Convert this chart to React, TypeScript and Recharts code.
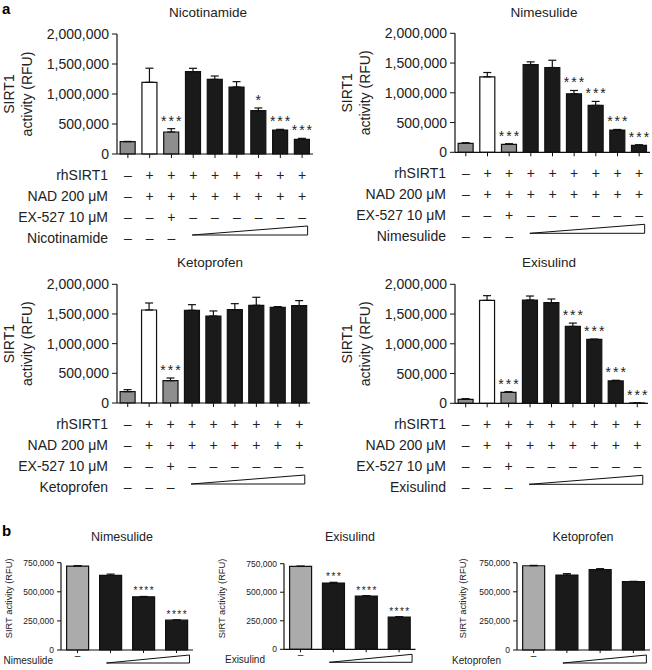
import { Bar, BarChart, Cell, ErrorBar, Label, LabelList, XAxis, YAxis } from "recharts"

const FONT = '"Liberation Sans", Arial, Helvetica, sans-serif'
const INK = "#1a1a1a"

// ---- panel a: conditions under each bar ----
const rhSIRT1Row = ["–", "+", "+", "+", "+", "+", "+", "+", "+"]
const nadRow = ["–", "+", "+", "+", "+", "+", "+", "+", "+"]
const ex527Row = ["–", "–", "+", "–", "–", "–", "–", "–", "–"]
const drugRowA = ["–", "–", "–", "", "", "", "", "", ""]
const conditionLabels = ["rhSIRT1", "NAD 200 μM", "EX-527 10 μM"]
const panelAFills = ["#8e8e8e", "#ffffff", "#8e8e8e", INK, INK, INK, INK, INK, INK]
const panelATicks = [0, 500000, 1000000, 1500000, 2000000]

const nicotinamideValues = [205000, 1195000, 367000, 1372000, 1244000, 1117000, 722000, 400000, 244000]
const nicotinamideErrors = [5000, 235000, 55000, 56000, 56000, 89000, 45000, 11000, 17000]
const nicotinamideStars = ["", "", "***", "", "", "", "*", "***", "***"]

const nimesulideValues = [151000, 1268000, 134000, 1475000, 1425000, 983000, 788000, 374000, 117000]
const nimesulideErrors = [10000, 73000, 10000, 45000, 122000, 56000, 67000, 10000, 10000]
const nimesulideStars = ["", "", "***", "", "", "***", "***", "***", "***"]

const ketoprofenValues = [191000, 1567000, 376000, 1562000, 1466000, 1573000, 1646000, 1612000, 1640000]
const ketoprofenErrors = [34000, 118000, 45000, 95000, 85000, 101000, 135000, 12000, 85000]
const ketoprofenStars = ["", "", "***", "", "", "", "", "", ""]

const exisulindValues = [67000, 1730000, 185000, 1736000, 1691000, 1292000, 1073000, 376000, 6000]
const exisulindErrors = [11000, 79000, 11000, 67000, 62000, 56000, 6000, 11000, 0]
const exisulindStars = ["", "", "***", "", "", "***", "***", "***", "***"]

// ---- panel b ----
const drugRowB = ["–", "", "", ""]
const panelBFills = ["#ababab", INK, INK, INK]
const panelBTicks = [0, 250000, 500000, 750000]

const bNimesulideValues = [721000, 641000, 457000, 256000]
const bNimesulideErrors = [3000, 11000, 3000, 3000]
const bNimesulideStars = ["", "", "****", "****"]

const bExisulindValues = [726000, 580000, 467000, 283000]
const bExisulindErrors = [3000, 7000, 3000, 3000]
const bExisulindStars = ["", "***", "****", "****"]

const bKetoprofenValues = [724000, 644000, 690000, 587000]
const bKetoprofenErrors = [3000, 12000, 9000, 3000]
const bKetoprofenStars = ["", "", "", ""]

type Box = { x: number; y: number; w: number; h: number }
type Plot = { left: number; top: number; right: number; bottom: number }

interface PanelProps {
  box: Box
  plot: Plot
  values: number[]
  errors: number[]
  stars: string[]
  fills: string[]
  yMax: number
  yTicks: number[]
  tickFont: number
  tickSize: number
  yLabel: string[]
  yLabelX: number[]
  yLabelShift: number
  yLabelFont: number
  rows: string[][]
  rowOffsets: number[]
  rowLabels: string[]
  rowLabelOffsets: number[]
  rowLabelX: number
  rowFont: number
  tri: { from: number; left: number; right: number; top: number; bottom: number }
  gap: string
  starFont: number
  starLift: number
  starSpacing: number
}

function Panel(p: PanelProps) {
  const { box, plot } = p
  const yAxisWidth = 60
  const left = plot.left - box.x
  const top = plot.top - box.y
  const bottom = plot.bottom - box.y
  const xAxisHeight = box.h - bottom
  const n = p.values.length
  const band = (plot.right - plot.left) / n

  const data = p.values.map((v, i) => ({
    cond: String(i + 1),
    value: v,
    err: [0, p.errors[i]],
    stars: p.stars[i],
  }))

  const renderTick = (props: any) => {
    const { x, y, index } = props
    const axisY = y - p.tickSize
    return (
      <g>
        {p.rows.map((row, r) =>
          row[index] ? (
            <text key={r} x={x} y={axisY + p.rowOffsets[r]} textAnchor="middle" dominantBaseline="central" fontSize={p.rowFont} fill="#222">
              {row[index]}
            </text>
          ) : null
        )}
        {index === 0 &&
          p.rowLabels.map((lab, r) => (
            <text key={"l" + r} x={p.rowLabelX - box.x} y={axisY + p.rowLabelOffsets[r]} textAnchor="end" dominantBaseline="central" fontSize={p.rowFont} fill="#222">
              {lab}
            </text>
          ))}
        {index === n - 1 && (
          <path
            d={`M${x - (n - 1 - p.tri.from) * band + p.tri.left},${axisY + p.tri.bottom} L${x + p.tri.right},${axisY + p.tri.top} L${x + p.tri.right},${axisY + p.tri.bottom} Z`}
            fill="#fff"
            stroke="#111"
            strokeWidth={1}
          />
        )}
      </g>
    )
  }

  const renderStars = (props: any) => {
    const { x, y, width, height, index } = props
    const s = p.stars[index]
    if (!s) return null
    const v = p.values[index]
    const errPx = v > 0 ? (p.errors[index] * Number(height)) / v : 0
    return (
      <text
        x={Number(x) + Number(width) / 2 + p.starSpacing / 2}
        y={Number(y) - errPx - p.starLift}
        textAnchor="middle"
        fontSize={p.starFont}
        letterSpacing={p.starSpacing}
        fill="#222"
      >
        {s}
      </text>
    )
  }

  const midY = (top + bottom) / 2 + p.yLabelShift

  return (
    <div style={{ position: "absolute", left: box.x, top: box.y }}>
      <BarChart
        width={box.w}
        height={box.h}
        data={data}
        margin={{ top, right: box.x + box.w - plot.right, bottom: 0, left: left - yAxisWidth }}
        barCategoryGap={p.gap}
      >
        <XAxis
          dataKey="cond"
          type="category"
          interval={0}
          height={xAxisHeight}
          tickSize={p.tickSize}
          tickMargin={0}
          tick={renderTick}
          axisLine={{ stroke: "#111", strokeWidth: 1.2 }}
          tickLine={{ stroke: "#111" }}
        />
        <YAxis
          type="number"
          width={yAxisWidth}
          domain={[0, p.yMax]}
          ticks={p.yTicks}
          interval={0}
          tickSize={p.tickSize + 1}
          tickMargin={3}
          tickFormatter={(v: number) => v.toLocaleString("en-US")}
          tick={{ fontSize: p.tickFont, fill: "#222" }}
          axisLine={{ stroke: "#111", strokeWidth: 1.2 }}
          tickLine={{ stroke: "#111" }}
          label={
            <Label
              content={() => (
                <g>
                  {p.yLabel.map((line, i) => (
                    <text
                      key={i}
                      transform={`translate(${left + p.yLabelX[i]},${midY}) rotate(-90)`}
                      textAnchor="middle"
                      dominantBaseline="central"
                      fontSize={p.yLabelFont}
                      fill="#222"
                    >
                      {line}
                    </text>
                  ))}
                </g>
              )}
            />
          }
        />
        <Bar dataKey="value" isAnimationActive={false} stroke="#111" strokeWidth={1.2}>
          {data.map((_, i) => (
            <Cell key={i} fill={p.fills[i]} />
          ))}
          <ErrorBar dataKey="err" direction="y" width={4} stroke="#111" strokeWidth={1.2} />
          <LabelList dataKey="stars" content={renderStars} />
        </Bar>
      </BarChart>
    </div>
  )
}

function Title({ text, x, y, size }: { text: string; x: number; y: number; size: number }) {
  return (
    <div style={{ position: "absolute", left: x - 100, top: y - size, width: 200, lineHeight: `${size * 2}px`, textAlign: "center", fontSize: size, color: "#222" }}>
      {text}
    </div>
  )
}

const panelACommon = {
  fills: panelAFills,
  yMax: 2000000,
  yTicks: panelATicks,
  tickFont: 14,
  tickSize: 4,
  yLabel: ["SIRT1", "activity (RFU)"],
  yLabelX: [-108, -90],
  yLabelShift: 0,
  yLabelFont: 14,
  rowOffsets: [21, 42, 63, 84],
  rowLabelOffsets: [21, 42, 63, 84],
  rowFont: 14,
  tri: { from: 3, left: -1, right: 5.5, top: 72, bottom: 81 },
  gap: "14.5%",
  starFont: 14,
  starLift: 3,
  starSpacing: 2,
}

const panelBCommon = {
  fills: panelBFills,
  yMax: 750000,
  yTicks: panelBTicks,
  tickFont: 8.5,
  tickSize: 3,
  yLabel: ["SIRT activity (RFU)"],
  yLabelShift: -8,
  yLabelFont: 9.3,
  rowOffsets: [5],
  rowLabelOffsets: [10.5],
  rowFont: 10,
  tri: { from: 1, left: -4, right: 13, top: 5, bottom: 13 },
  gap: "17%",
  starFont: 10,
  starLift: 2,
  starSpacing: 1.5,
}

export default function App() {
  return (
    <div style={{ position: "absolute", left: 0, top: 0, width: 652, height: 670, background: "#fff", fontFamily: FONT, overflow: "hidden" }}>
      <div style={{ position: "absolute", left: 2, top: 0, fontSize: 15, fontWeight: 700, lineHeight: "17px" }}>a</div>
      <div style={{ position: "absolute", left: 2, top: 522, fontSize: 15, fontWeight: 700, lineHeight: "17px" }}>b</div>

      <Title text="Nicotinamide" x={208} y={12} size={13.5} />
      <Title text="Nimesulide" x={544} y={12} size={13.5} />
      <Title text="Ketoprofen" x={210} y={262} size={13.5} />
      <Title text="Exisulind" x={549} y={262} size={13.5} />
      <Title text="Nimesulide" x={122} y={537} size={12.5} />
      <Title text="Exisulind" x={350} y={537} size={12.5} />
      <Title text="Ketoprofen" x={583} y={537} size={12.5} />

      <Panel
        {...panelACommon}
        box={{ x: 0, y: 20, w: 326, h: 230 }}
        plot={{ left: 117, top: 34, right: 313, bottom: 154 }}
        values={nicotinamideValues}
        errors={nicotinamideErrors}
        stars={nicotinamideStars}
        rows={[rhSIRT1Row, nadRow, ex527Row, drugRowA]}
        rowLabels={[...conditionLabels, "Nicotinamide"]}
        rowLabelX={108}
      />
      <Panel
        {...panelACommon}
        box={{ x: 326, y: 20, w: 326, h: 230 }}
        plot={{ left: 455, top: 33.3, right: 650, bottom: 152.3 }}
        values={nimesulideValues}
        errors={nimesulideErrors}
        stars={nimesulideStars}
        rows={[rhSIRT1Row, nadRow, ex527Row, drugRowA]}
        rowLabels={[...conditionLabels, "Nimesulide"]}
        rowLabelX={446}
      />
      <Panel
        {...panelACommon}
        box={{ x: 0, y: 270, w: 326, h: 230 }}
        plot={{ left: 117, top: 284.3, right: 310, bottom: 403 }}
        values={ketoprofenValues}
        errors={ketoprofenErrors}
        stars={ketoprofenStars}
        rows={[rhSIRT1Row, nadRow, ex527Row, drugRowA]}
        rowLabels={[...conditionLabels, "Ketoprofen"]}
        rowLabelX={108}
      />
      <Panel
        {...panelACommon}
        box={{ x: 326, y: 270, w: 326, h: 230 }}
        plot={{ left: 455, top: 284.3, right: 648, bottom: 403.3 }}
        values={exisulindValues}
        errors={exisulindErrors}
        stars={exisulindStars}
        rows={[rhSIRT1Row, nadRow, ex527Row, drugRowA]}
        rowLabels={[...conditionLabels, "Exisulind"]}
        rowLabelX={446}
      />

      <Panel
        {...panelBCommon}
        box={{ x: 0, y: 550, w: 215, h: 120 }}
        plot={{ left: 61, top: 562.7, right: 193, bottom: 650 }}
        values={bNimesulideValues}
        errors={bNimesulideErrors}
        stars={bNimesulideStars}
        yLabelX={[-52]}
        rows={[drugRowB]}
        rowLabels={["Nimesulide"]}
        rowLabelX={53}
      />
      <Panel
        {...panelBCommon}
        box={{ x: 215, y: 550, w: 215, h: 120 }}
        plot={{ left: 284, top: 563.7, right: 415.5, bottom: 649.3 }}
        values={bExisulindValues}
        errors={bExisulindErrors}
        stars={bExisulindStars}
        yLabelX={[-62]}
        rows={[drugRowB]}
        rowLabels={["Exisulind"]}
        rowLabelX={265}
      />
      <Panel
        {...panelBCommon}
        box={{ x: 430, y: 550, w: 222, h: 120 }}
        plot={{ left: 517, top: 562.7, right: 650, bottom: 650 }}
        values={bKetoprofenValues}
        errors={bKetoprofenErrors}
        stars={bKetoprofenStars}
        yLabelX={[-54]}
        rows={[drugRowB]}
        rowLabels={["Ketoprofen"]}
        rowLabelX={501}
      />
    </div>
  )
}
